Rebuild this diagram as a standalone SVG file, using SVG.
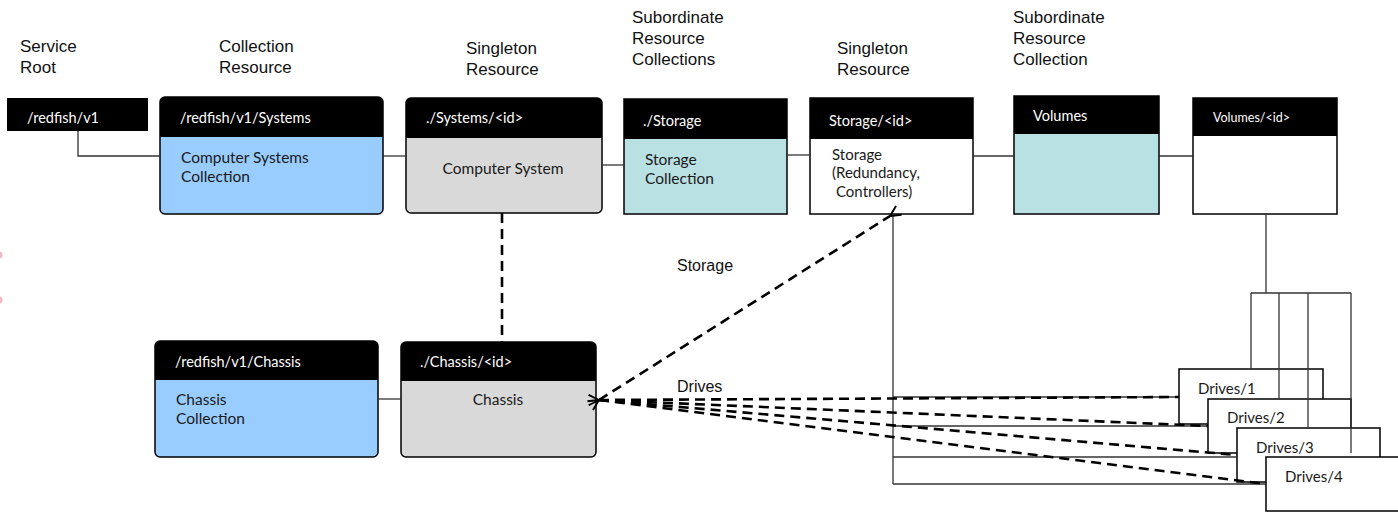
<svg xmlns="http://www.w3.org/2000/svg" width="1398" height="512" viewBox="0 0 1398 512">
  <style>
    .cap { font-family: "Liberation Sans", Arial, sans-serif; font-size: 17px; fill: #111; }
    .lbl { font-family: "Liberation Sans", Arial, sans-serif; font-size: 16px; fill: #111; }
    .hd { font-family: Lato, "Open Sans", sans-serif; font-size: 14.5px; fill: #fff; }
    .hds { font-family: Lato, "Open Sans", sans-serif; font-size: 12.5px; fill: #fff; }
    .bd { font-family: Lato, "Open Sans", sans-serif; font-size: 15.5px; fill: #1a1a1a; }
    .dr { font-family: Lato, "Open Sans", sans-serif; font-size: 15px; fill: #1a1a1a; }
    .box { stroke: #000; stroke-width: 1.5; }
    .head { fill: #000; }
    .blue { fill: #99CCFF; }
    .gray { fill: #D9D9D9; }
    .teal { fill: #B9E0E3; }
    .white { fill: #fff; }
    .link { fill: none; stroke: #333; stroke-width: 1.3; }
    .dash { fill: none; stroke: #000; stroke-width: 2.6; stroke-dasharray: 10 6; }
  </style>
  <defs>
    <marker id="chev" viewBox="0 0 10 10" refX="1" refY="5" markerWidth="5" markerHeight="5" orient="auto-start-reverse" markerUnits="strokeWidth">
      <path d="M9 1 L1 5 L9 9" fill="none" stroke="#000" stroke-width="1.5"/>
    </marker>
  </defs>

  <!-- column captions -->
  <g id="captions">
    <text class="cap" x="20" y="52">Service</text>
    <text class="cap" x="20" y="73">Root</text>
    <text class="cap" x="219" y="52">Collection</text>
    <text class="cap" x="219" y="73">Resource</text>
    <text class="cap" x="466" y="54">Singleton</text>
    <text class="cap" x="466" y="75">Resource</text>
    <text class="cap" x="632" y="23">Subordinate</text>
    <text class="cap" x="632" y="44">Resource</text>
    <text class="cap" x="632" y="65">Collections</text>
    <text class="cap" x="837" y="54">Singleton</text>
    <text class="cap" x="837" y="75">Resource</text>
    <text class="cap" x="1013" y="23">Subordinate</text>
    <text class="cap" x="1013" y="44">Resource</text>
    <text class="cap" x="1013" y="65">Collection</text>
  </g>

  <!-- stray marks at the left edge -->
  <g id="edge-marks" fill="#F4B6C2">
    <circle cx="-1" cy="255" r="3.5"/>
    <circle cx="-1" cy="300" r="3.5"/>
  </g>

  <!-- nodes -->
  <g id="service-root">
    <rect class="head" x="7" y="98" width="141" height="33"/>
    <text class="hd" x="27" y="123">/redfish/v1</text>
  </g>

  <g id="systems-collection">
    <rect class="blue" x="160" y="97" width="223" height="117" rx="5"/>
    <path class="head" d="M160 137 V102 A5 5 0 0 1 165 97 H378 A5 5 0 0 1 383 102 V137 Z"/>
    <rect class="box" x="160" y="97" width="223" height="117" rx="5" fill="none"/>
    <text class="hd" x="180" y="123">/redfish/v1/Systems</text>
    <text class="bd" x="181" y="163">Computer Systems</text>
    <text class="bd" x="181" y="182">Collection</text>
  </g>

  <g id="computer-system">
    <rect class="gray" x="406" y="98" width="196" height="115" rx="5"/>
    <path class="head" d="M406 138 V103 A5 5 0 0 1 411 98 H597 A5 5 0 0 1 602 103 V138 Z"/>
    <rect class="box" x="406" y="98" width="196" height="115" rx="5" fill="none"/>
    <text class="hd" x="426" y="123">./Systems/&lt;id&gt;</text>
    <text class="bd" x="503" y="174" text-anchor="middle">Computer System</text>
  </g>

  <g id="storage-collection">
    <rect class="teal box" x="624" y="99" width="163" height="115"/>
    <rect class="head" x="624" y="99" width="163" height="40"/>
    <text class="hd" x="643" y="126">./Storage</text>
    <text class="bd" x="645" y="165">Storage</text>
    <text class="bd" x="645" y="184">Collection</text>
  </g>

  <g id="storage">
    <rect class="white box" x="810" y="98" width="163" height="116"/>
    <rect class="head" x="810" y="98" width="163" height="41"/>
    <text class="hd" x="829" y="126">Storage/&lt;id&gt;</text>
    <text class="dr" x="832" y="160">Storage</text>
    <text class="dr" x="832" y="178">(Redundancy,</text>
    <text class="dr" x="836" y="197">Controllers)</text>
  </g>

  <g id="volumes-collection">
    <rect class="teal box" x="1014" y="96" width="145" height="118"/>
    <rect class="head" x="1014" y="96" width="145" height="38"/>
    <text class="hd" x="1033" y="121">Volumes</text>
  </g>

  <g id="volume">
    <rect class="white box" x="1193" y="98" width="144" height="116"/>
    <rect class="head" x="1193" y="98" width="144" height="38"/>
    <text class="hds" x="1213" y="122">Volumes/&lt;id&gt;</text>
  </g>

  <g id="chassis-collection">
    <rect class="blue" x="155" y="341" width="223" height="116" rx="5"/>
    <path class="head" d="M155 380 V346 A5 5 0 0 1 160 341 H373 A5 5 0 0 1 378 346 V380 Z"/>
    <rect class="box" x="155" y="341" width="223" height="116" rx="5" fill="none"/>
    <text class="hd" x="175" y="367">/redfish/v1/Chassis</text>
    <text class="bd" x="176" y="405">Chassis</text>
    <text class="bd" x="176" y="424">Collection</text>
  </g>

  <g id="chassis">
    <rect class="gray" x="401" y="342" width="195" height="115" rx="5"/>
    <path class="head" d="M401 381 V347 A5 5 0 0 1 406 342 H591 A5 5 0 0 1 596 347 V381 Z"/>
    <rect class="box" x="401" y="342" width="195" height="115" rx="5" fill="none"/>
    <text class="hd" x="420" y="367">./Chassis/&lt;id&gt;</text>
    <text class="bd" x="498" y="405" text-anchor="middle">Chassis</text>
  </g>

  <!-- drive cards overlap, later ones on top -->
  <g id="drive-1">
    <rect class="white box" x="1179" y="369" width="144" height="55"/>
    <text class="dr" x="1198" y="394">Drives/1</text>
  </g>
  <g id="drive-2">
    <rect class="white box" x="1208" y="399" width="143" height="54"/>
    <text class="dr" x="1227" y="423">Drives/2</text>
  </g>
  <g id="drive-3">
    <rect class="white box" x="1237" y="428" width="143" height="54"/>
    <text class="dr" x="1256" y="453">Drives/3</text>
  </g>
  <g id="drive-4">
    <rect class="white box" x="1266" y="457" width="140" height="54"/>
    <text class="dr" x="1285" y="482">Drives/4</text>
  </g>

  <!-- connectors -->
  <g id="connectors">
    <path class="link" d="M78 131 V156 H160"/>
    <path class="link" d="M383 156 H406"/>
    <path class="link" d="M602 165 H624"/>
    <path class="link" d="M787 155 H810"/>
    <path class="link" d="M973 156 H1014"/>
    <path class="link" d="M1159 156 H1193"/>
    <path class="link" d="M378 399 H401"/>

    <!-- volume to drives -->
    <path class="link" d="M1266 214 V293"/>
    <path class="link" d="M1251 293 H1351"/>
    <path class="link" d="M1251 293 V369"/>
    <path class="link" d="M1279 293 V399"/>
    <path class="link" d="M1308 293 V428"/>
    <path class="link" d="M1351 293 V453"/>

    <!-- storage to drives -->
    <path class="link" d="M893 214 V484"/>
    <path class="link" d="M893 397 H1179"/>
    <path class="link" d="M893 426 H1208"/>
    <path class="link" d="M893 457 H1237"/>
    <path class="link" d="M893 484 H1266"/>

    <!-- chassis links -->
    <path class="dash" d="M502 213 V342" stroke-width="2.8"/>
    <path class="dash" d="M599 400 L890 216" marker-start="url(#chev)" marker-end="url(#chev)"/>
    <path class="dash" d="M599 400 L1179 397" marker-start="url(#chev)"/>
    <path class="dash" d="M599 400 L1208 426"/>
    <path class="dash" d="M599 400 L1237 455"/>
    <path class="dash" d="M599 400 L1266 484"/>

    <text class="lbl" x="677" y="271">Storage</text>
    <text class="lbl" x="677" y="392">Drives</text>
  </g>
</svg>
